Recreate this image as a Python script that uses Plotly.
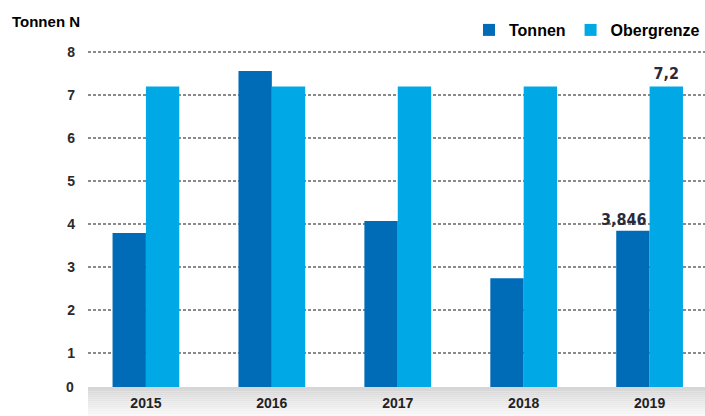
import plotly.graph_objects as go

years = ["2015", "2016", "2017", "2018", "2019"]
tonnen = [3.79, 7.56, 4.07, 2.74, 3.846]
obergrenze = [7.2, 7.2, 7.2, 7.2, 7.2]
y_ticks = [1, 2, 3, 4, 5, 6, 7, 8]

C_T = "#006cb7"
C_O = "#00a9e6"
W, H = 705, 416
ML, MR, MT, MB = 88, 0, 40, 29
y_min, y_max = 0.209, 8.28


def fmt(v):
    return f"{v:g}".replace(".", ",")


def last_only(vals):
    return ["" for _ in vals[:-1]] + [fmt(vals[-1])]


label_font = dict(family="DejaVu Sans Condensed, Roboto Condensed, Arial Narrow, Arial",
                  size=16, color="#2a2a3a", weight="bold")

fig = go.Figure()
fig.add_bar(x=years, y=tonnen, name="Tonnen", marker=dict(color=C_T, line=dict(width=0)))
fig.add_bar(x=years, y=obergrenze, name="Obergrenze", marker=dict(color=C_O, line=dict(width=0)),
            text=last_only(obergrenze), textposition="outside", textfont=label_font,
            constraintext="none", cliponaxis=False)

# value label of the last Tonnen bar, right-aligned to the bar's right edge
last = len(years) - 1
fig.add_annotation(x=last, y=tonnen[last], text=fmt(tonnen[last]), showarrow=False,
                   xanchor="right", yanchor="bottom", xshift=-1, yshift=0,
                   font=label_font)

# gradient band below the plot
n = 14
band_h = MB / (H - MT - MB)
for i in range(n):
    g = int(214 + (248 - 214) * i / (n - 1))
    fig.add_shape(type="rect", xref="paper", yref="paper", x0=0, x1=1,
                  y0=-band_h * i / n, y1=-band_h * (i + 1) / n,
                  fillcolor=f"rgb({g},{g},{g})", line=dict(width=0), layer="below")

# zero label at the axis bottom
fig.add_annotation(xref="paper", x=0, y=y_min, text="0", showarrow=False,
                   xanchor="right", yanchor="middle", xshift=-12, yshift=0,
                   font=dict(family="Arial", size=14, color="#2a2a2a", weight="bold"))
# axis title
fig.add_annotation(xref="paper", yref="paper", x=-ML / (W - ML - MR) + 10 / (W - ML - MR),
                   y=1 + 18 / (H - MT - MB), text="<b>Tonnen N</b>", showarrow=False,
                   xanchor="left", yanchor="middle",
                   font=dict(family="Arial", size=15, color="#000"))

fig.update_layout(
    width=W, height=H,
    margin=dict(l=ML, r=MR, t=MT, b=MB, autoexpand=False),
    plot_bgcolor="white", paper_bgcolor="white",
    barmode="group", bargap=0.47, bargroupgap=0,
    legend=dict(orientation="h", xref="container", yref="container",
                x=1, xanchor="right", y=1 - 30 / H, yanchor="middle",
                font=dict(family="Arial", size=16, color="#000", weight="bold"),
                itemwidth=30, traceorder="normal", bgcolor="rgba(0,0,0,0)"),
    font=dict(family="Arial"),
    xaxis=dict(range=[-0.46, 4.44], showgrid=False, showline=False, zeroline=False,
               automargin=False,
               tickfont=dict(family="Arial", size=14, color="#222", weight="bold"),
               ticklabelstandoff=6),
    yaxis=dict(range=[y_min, y_max], tickvals=y_ticks, showgrid=True, gridcolor="#8a8a8a",
               gridwidth=1.5, griddash="3px,2px", zeroline=False, showline=False,
               automargin=False,
               tickfont=dict(family="Arial", size=14, color="#2a2a2a", weight="bold"),
               ticklabelstandoff=12),
)

fig.write_html("out.html", config={"displayModeBar": False},
               post_script="document.body.style.margin='0';")
